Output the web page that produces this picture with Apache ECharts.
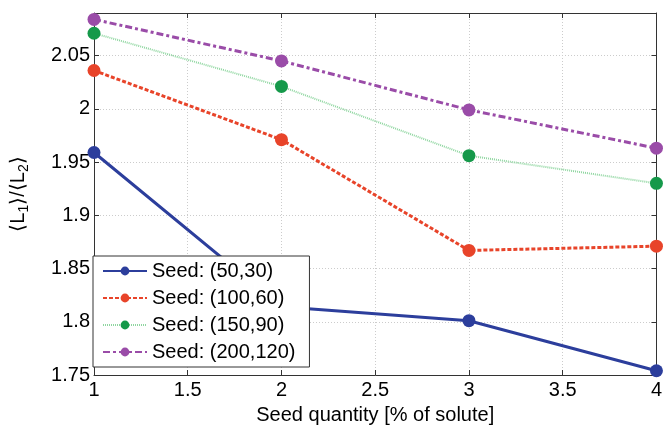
<!DOCTYPE html>
<html>
<head>
<meta charset="utf-8">
<script src="https://cdn.jsdelivr.net/npm/echarts@6/dist/echarts.min.js"></script>
<style>
  html, body { margin: 0; padding: 0; background: #fff; }
  #chart { width: 665px; height: 430px; }
</style>
</head>
<body>
<div id="chart"></div>
<script>
// seed quantity [% of solute]
const xValues = [1, 2, 3, 4];
const seriesNames = ["Seed: (50,30)", "Seed: (100,60)", "Seed: (150,90)", "Seed: (200,120)"];
const seed50 = [1.959, 1.814, 1.801, 1.754];
const seed100 = [2.036, 1.971, 1.867, 1.871];
const seed150 = [2.071, 2.021, 1.956, 1.930];
const seed200 = [2.084, 2.045, 1.999, 1.963];

const fontFamily = "Liberation Sans, Arial, sans-serif";
const chart = echarts.init(document.getElementById("chart"));

function pairs(ys) {
  return xValues.map((x, i) => [x, ys[i]]);
}

function mkSeries(name, ys, lineColor, dotColor, width, type) {
  return {
    name: name,
    type: "line",
    data: pairs(ys),
    symbol: "circle",
    symbolSize: 13,
    lineStyle: { color: lineColor, width: width, type: type },
    itemStyle: { color: dotColor },
    emphasis: { disabled: true },
    z: 3
  };
}

const hiddenAxisBits = {
  axisLabel: { show: false },
  splitLine: { show: false },
  axisLine: { show: true, lineStyle: { color: "#333", width: 1 } },
  axisTick: { inside: true, length: 5, lineStyle: { color: "#333" } }
};

chart.setOption({
  animation: false,
  textStyle: { fontFamily: fontFamily },
  grid: { left: 87, right: 2, top: 13, bottom: 53 },
  legend: {
    orient: "vertical",
    left: 93,
    top: 256,
    backgroundColor: "#fff",
    borderColor: "#333",
    borderWidth: 1,
    padding: [5, 14, 5, 9],
    itemWidth: 44,
    itemHeight: 11,
    itemGap: 7,
    textStyle: { fontSize: 20, color: "#000", fontFamily: fontFamily },
    data: seriesNames
  },
  xAxis: [{
    type: "value",
    min: 1, max: 4, interval: 0.5,
    name: "Seed quantity [% of solute]",
    nameLocation: "middle",
    nameGap: 30,
    nameTextStyle: { fontSize: 20, color: "#000" },
    axisLabel: { fontSize: 20, color: "#000", margin: 5 },
    axisLine: { lineStyle: { color: "#333" } },
    axisTick: { inside: true, length: 5, lineStyle: { color: "#333" } },
    splitLine: { show: true, lineStyle: { color: "#cccccc", type: [1, 2] } }
  }, Object.assign({ type: "value", min: 1, max: 4, interval: 0.5, position: "top" }, hiddenAxisBits)],
  yAxis: [{
    type: "value",
    min: 1.75, max: 2.09, interval: 0.05,
    name: "⟨L{sub|1}⟩/⟨L{sub|2}⟩",
    nameLocation: "middle",
    nameGap: 63,
    nameRotate: 90,
    nameTextStyle: {
      fontSize: 20, color: "#000",
      rich: { sub: { fontSize: 14, padding: [12, 0, 0, 0] } }
    },
    axisLabel: {
      fontSize: 20, color: "#000", margin: 4, showMaxLabel: false,
      formatter: (v) => String(parseFloat(v.toFixed(2)))
    },
    axisLine: { show: true, lineStyle: { color: "#333" } },
    axisTick: { show: true, inside: true, length: 5, lineStyle: { color: "#333" } },
    splitLine: { show: true, lineStyle: { color: "#cccccc", type: [1, 2] } }
  }, Object.assign({ type: "value", min: 1.75, max: 2.09, interval: 0.05, position: "right" }, hiddenAxisBits)],
  series: [
    mkSeries(seriesNames[0], seed50, "#2c3e9c", "#2c3e9c", 3, "solid"),
    mkSeries(seriesNames[1], seed100, "#e8442a", "#e8442a", 3, [4, 2]),
    mkSeries(seriesNames[2], seed150, "#8fd6a0", "#15994a", 2, [1, 1]),
    mkSeries(seriesNames[3], seed200, "#9a4ca8", "#9a4ca8", 3, [7, 3, 3, 3])
  ]
});
</script>
</body>
</html>
